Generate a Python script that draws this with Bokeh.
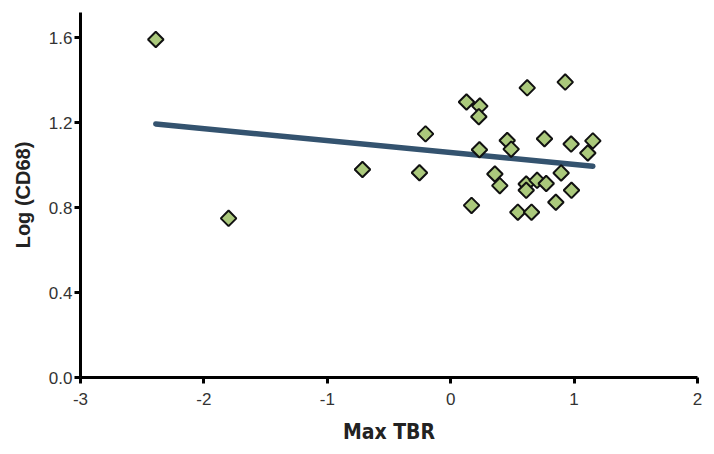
import numpy as np
from bokeh.plotting import figure
from bokeh.models import ColumnDataSource, Range1d, FixedTicker
from bokeh.embed import file_html
from bokeh.resources import INLINE

# Data
max_tbr = [-2.39, -1.80, -0.715, -0.253, -0.204, 0.128, 0.236, 0.228, 0.62, 0.928,
           0.233, 0.458, 0.490, 0.760, 0.976, 1.152, 1.111, 0.358, 0.398, 0.169,
           0.612, 0.612, 0.70, 0.774, 0.895, 0.979, 0.852, 0.544, 0.655]
log_cd68 = [1.593, 0.75, 0.98, 0.965, 1.148, 1.298, 1.279, 1.229, 1.365, 1.392,
            1.073, 1.117, 1.076, 1.125, 1.10, 1.115, 1.058, 0.959, 0.904, 0.811,
            0.912, 0.882, 0.929, 0.914, 0.964, 0.882, 0.826, 0.779, 0.779]
fit_x = [-2.39, 1.152]
fit_y = [1.195, 0.995]
x_ticks = [-3, -2, -1, 0, 1, 2]
x_tick_labels = ["-3", "-2", "-1", "0", "1", "2"]
y_ticks = [0.0, 0.4, 0.8, 1.2, 1.6]
y_tick_labels = ["0.0", "0.4", "0.8", "1.2", "1.6"]

p = figure(width=706, height=446, output_backend="svg", toolbar_location=None,
           x_range=Range1d(-3, 2), y_range=Range1d(0, 1.72),
           min_border_left=80, min_border_right=9, min_border_top=12, min_border_bottom=67)
p.outline_line_color = None
p.xgrid.visible = False
p.ygrid.visible = False

p.line(fit_x, fit_y, line_color="#34536f", line_width=5.5, line_cap="round")
src = ColumnDataSource(dict(x=max_tbr, y=log_cd68))
p.scatter("x", "y", source=src, marker="square", angle=np.pi / 4, size=11,
          fill_color="#abc97c", line_color="#111111", line_width=2)

for ax in (p.xaxis[0], p.yaxis[0]):
    ax.axis_line_color = "black"
    ax.axis_line_width = 3
    ax.major_tick_line_color = "black"
    ax.major_tick_line_width = 3
    ax.major_tick_out = 6
    ax.major_tick_in = 0
    ax.minor_tick_line_color = None
    ax.major_label_text_font = "Liberation Sans"
    ax.major_label_text_font_size = "17px"
    ax.major_label_text_color = "#333333"
    ax.axis_label_text_font_style = "bold"
    ax.axis_label_text_color = "#222222"

p.xaxis.ticker = FixedTicker(ticks=x_ticks)
p.yaxis.ticker = FixedTicker(ticks=y_ticks)
p.xaxis.major_label_overrides = dict(zip(x_ticks, x_tick_labels))
p.yaxis.major_label_overrides = dict(zip(y_ticks, y_tick_labels))
p.xaxis.axis_label = "Max TBR"
p.xaxis.axis_label_text_font = "'DejaVu Sans Condensed', 'Liberation Sans', sans-serif"
p.xaxis.axis_label_text_font_size = "21px"
p.xaxis.axis_label_standoff = 12
p.xaxis.major_label_standoff = 9
p.yaxis.axis_label = "Log (CD68)"
p.yaxis.axis_label_text_font = "Liberation Sans"
p.yaxis.axis_label_text_font_size = "20px"
p.yaxis.axis_label_standoff = 12
p.yaxis.major_label_standoff = 2

open("out.html", "w").write(file_html(p, INLINE))
